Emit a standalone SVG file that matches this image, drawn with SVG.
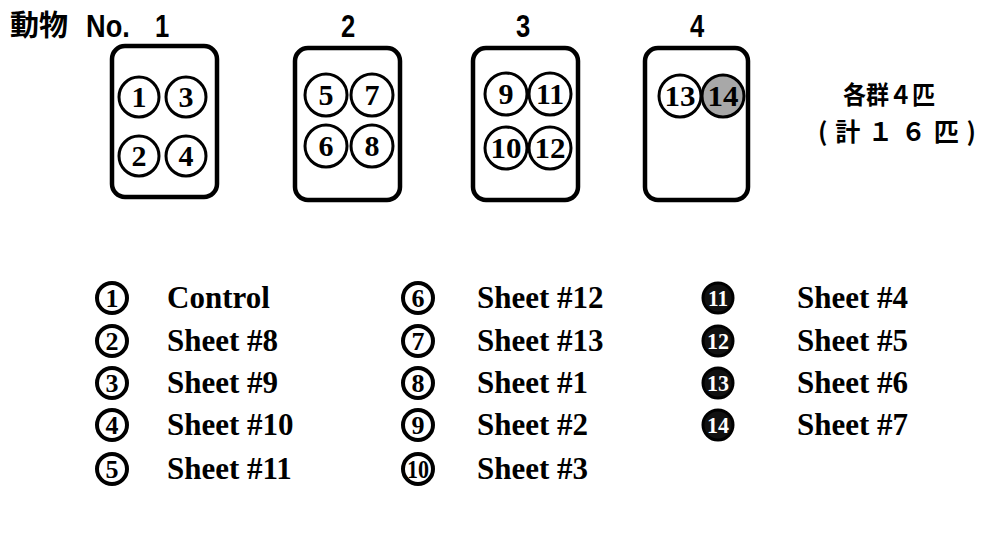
<svg xmlns="http://www.w3.org/2000/svg" width="986" height="537" viewBox="0 0 986 537">
<style>
.box{fill:#fff;stroke:#000;stroke-width:4.5}
.c{fill:#fff;stroke:#000;stroke-width:3}
.n{font-family:"Liberation Serif",serif;font-weight:bold;font-size:30px;text-anchor:middle;fill:#000}
.hd{font-family:"Liberation Sans","Noto Sans CJK JP",sans-serif;font-weight:bold;font-size:32px;text-anchor:middle}
.cj{font-family:"Noto Sans CJK JP",sans-serif;font-weight:bold;font-size:29px}
.jp{font-family:"Noto Sans CJK JP",sans-serif;font-weight:bold;font-size:25px}
.lc{fill:#fff;stroke:#000;stroke-width:4}
.ld{fill:#111;stroke:#000;stroke-width:3}
.ln{font-family:"Liberation Serif",serif;font-weight:bold;font-size:26px;text-anchor:middle;fill:#000}
.lw{font-family:"Liberation Serif",serif;font-weight:bold;font-size:24px;text-anchor:middle;fill:#fff}
.lt{font-family:"Liberation Serif",serif;font-weight:bold;font-size:31px;fill:#000}
</style>
<g id="header">
<text class="cj" x="10" y="36">動物</text>
<text class="hd" transform="translate(108,37) scale(0.85,1)">No.</text>
<text class="hd" transform="translate(162,37) scale(0.8,1)">1</text>
<text class="hd" transform="translate(348,37) scale(0.8,1)">2</text>
<text class="hd" transform="translate(523,37) scale(0.8,1)">3</text>
<text class="hd" transform="translate(697,37) scale(0.8,1)">4</text>
</g>
<g id="animal1">
<rect class="box" x="112" y="46" width="105" height="151" rx="13"/>
<circle class="c" cx="139" cy="97" r="20"/><text class="n" x="139" y="107">1</text>
<circle class="c" cx="186" cy="97" r="20"/><text class="n" x="186" y="107">3</text>
<circle class="c" cx="139" cy="156" r="20"/><text class="n" x="139" y="166">2</text>
<circle class="c" cx="186" cy="156" r="20"/><text class="n" x="186" y="166">4</text>
</g>
<g id="animal2">
<rect class="box" x="295" y="48" width="105" height="152" rx="13"/>
<circle class="c" cx="326" cy="95" r="21"/><text class="n" x="326" y="105">5</text>
<circle class="c" cx="372" cy="95" r="21"/><text class="n" x="372" y="105">7</text>
<circle class="c" cx="326" cy="146" r="21"/><text class="n" x="326" y="156">6</text>
<circle class="c" cx="372" cy="146" r="21"/><text class="n" x="372" y="156">8</text>
</g>
<g id="animal3">
<rect class="box" x="473" y="48" width="105" height="152" rx="13"/>
<circle class="c" cx="506" cy="94" r="21"/><text class="n" x="506" y="104">9</text>
<circle class="c" cx="550" cy="94" r="21"/><text class="n" x="550" y="104" textLength="28" lengthAdjust="spacingAndGlyphs">11</text>
<circle class="c" cx="506" cy="148" r="21"/><text class="n" x="506" y="158" textLength="31" lengthAdjust="spacingAndGlyphs">10</text>
<circle class="c" cx="550" cy="148" r="21"/><text class="n" x="550" y="158" textLength="31" lengthAdjust="spacingAndGlyphs">12</text>
</g>
<g id="animal4">
<rect class="box" x="645" y="48" width="103" height="152" rx="13"/>
<circle class="c" cx="680" cy="96" r="21"/><text class="n" x="680" y="106" textLength="31" lengthAdjust="spacingAndGlyphs">13</text>
<circle class="c" cx="723" cy="96" r="21" style="fill:#a8a8a8"/><text class="n" x="723" y="106" textLength="31" lengthAdjust="spacingAndGlyphs">14</text>
</g>
<g id="note">
<text class="jp" x="843" y="104" textLength="92" lengthAdjust="spacingAndGlyphs">各群４匹</text>
<text class="jp" x="818" y="141" textLength="158" lengthAdjust="spacing">(計１６匹)</text>
</g>
<g id="legend">
<circle class="lc" cx="112" cy="298" r="15"/><text class="ln" x="112" y="307">1</text><text class="lt" x="167" y="308">Control</text>
<circle class="lc" cx="112" cy="341" r="15"/><text class="ln" x="112" y="350">2</text><text class="lt" x="167" y="351">Sheet #8</text>
<circle class="lc" cx="112" cy="383" r="15"/><text class="ln" x="112" y="392">3</text><text class="lt" x="167" y="393">Sheet #9</text>
<circle class="lc" cx="112" cy="425" r="15"/><text class="ln" x="112" y="434">4</text><text class="lt" x="167" y="435">Sheet #10</text>
<circle class="lc" cx="112" cy="469" r="15"/><text class="ln" x="112" y="478">5</text><text class="lt" x="167" y="479">Sheet #11</text>
<circle class="lc" cx="418" cy="298" r="15"/><text class="ln" x="418" y="307">6</text><text class="lt" x="477" y="308">Sheet #12</text>
<circle class="lc" cx="418" cy="341" r="15"/><text class="ln" x="418" y="350">7</text><text class="lt" x="477" y="351">Sheet #13</text>
<circle class="lc" cx="418" cy="383" r="15"/><text class="ln" x="418" y="392">8</text><text class="lt" x="477" y="393">Sheet #1</text>
<circle class="lc" cx="418" cy="425" r="15"/><text class="ln" x="418" y="434">9</text><text class="lt" x="477" y="435">Sheet #2</text>
<circle class="lc" cx="418" cy="469" r="15"/><text class="ln" x="418" y="478" textLength="22" lengthAdjust="spacingAndGlyphs">10</text><text class="lt" x="477" y="479">Sheet #3</text>
<circle class="ld" cx="718" cy="298" r="15"/><text class="lw" x="718" y="306" textLength="20" lengthAdjust="spacingAndGlyphs">11</text><text class="lt" x="797" y="308">Sheet #4</text>
<circle class="ld" cx="718" cy="341" r="15"/><text class="lw" x="718" y="349" textLength="22" lengthAdjust="spacingAndGlyphs">12</text><text class="lt" x="797" y="351">Sheet #5</text>
<circle class="ld" cx="718" cy="383" r="15"/><text class="lw" x="718" y="391" textLength="22" lengthAdjust="spacingAndGlyphs">13</text><text class="lt" x="797" y="393">Sheet #6</text>
<circle class="ld" cx="718" cy="425" r="15"/><text class="lw" x="718" y="433" textLength="22" lengthAdjust="spacingAndGlyphs">14</text><text class="lt" x="797" y="435">Sheet #7</text>
</g>
</svg>
